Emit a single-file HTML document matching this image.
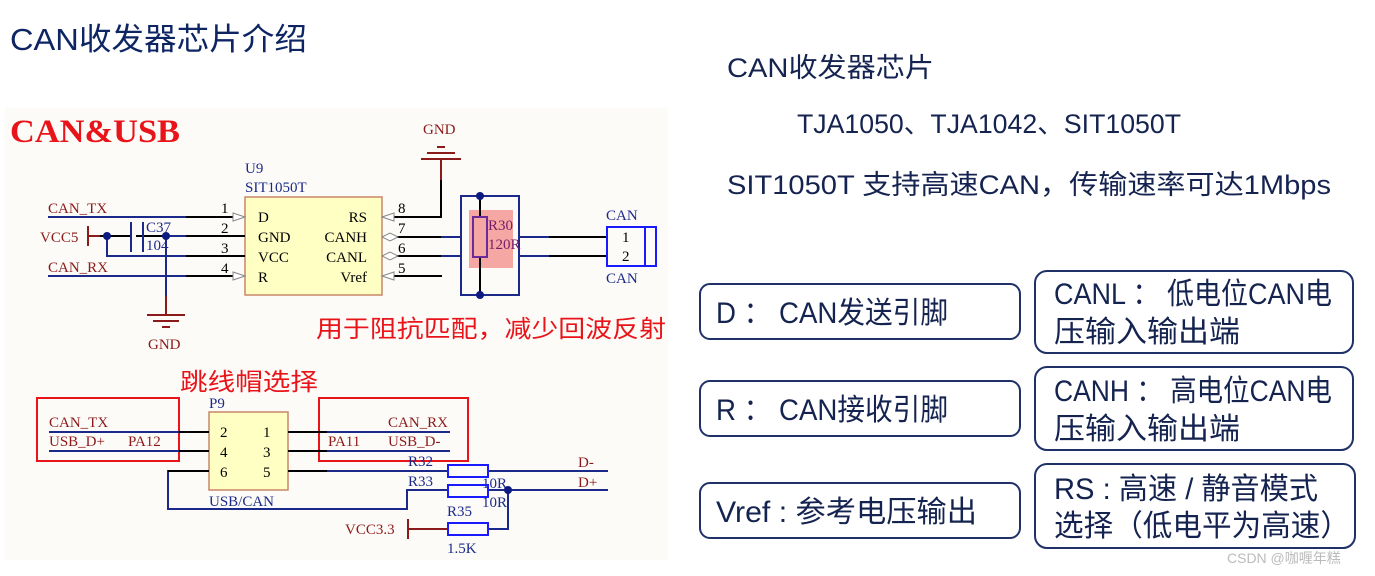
<!DOCTYPE html>
<html><head><meta charset="utf-8"><style>
html,body{margin:0;padding:0;background:#fff;}
svg{display:block;}
.s{font-family:"Liberation Serif","Noto Serif CJK SC",serif;}
.a{font-family:"Liberation Sans","Noto Sans CJK SC",sans-serif;}
</style></head><body>
<svg width="1375" height="576" viewBox="0 0 1375 576" xmlns="http://www.w3.org/2000/svg">
<rect width="1375" height="576" fill="#fff"/>
<text class="a" x="10" y="50" font-size="31" fill="#0d2563" textLength="297" lengthAdjust="spacingAndGlyphs">CAN收发器芯片介绍</text>
<rect x="5" y="108" width="663" height="452" fill="#fdfbf7"/>
<text class="s" x="10" y="142" font-size="33" font-weight="bold" fill="#e8141a" textLength="170" lengthAdjust="spacingAndGlyphs">CAN&amp;USB</text>

<!-- pink highlight behind -->
<rect x="469" y="210" width="44" height="58" fill="#f4a7a3"/>

<g class="s" font-size="15">
<text x="245" y="173" fill="#1b2a8a">U9</text>
<text x="245" y="192" fill="#1b2a8a">SIT1050T</text>
<rect x="245" y="197" width="137" height="98" fill="#ffffc4" stroke="#c9876a" stroke-width="1.5"/>
<text x="258" y="222" fill="#000">D</text>
<text x="258" y="242" fill="#000">GND</text>
<text x="258" y="262" fill="#000">VCC</text>
<text x="258" y="282" fill="#000">R</text>
<text x="367" y="222" fill="#000" text-anchor="end">RS</text>
<text x="367" y="242" fill="#000" text-anchor="end">CANH</text>
<text x="367" y="262" fill="#000" text-anchor="end">CANL</text>
<text x="367" y="282" fill="#000" text-anchor="end">Vref</text>
<text x="221" y="213">1</text><text x="221" y="233">2</text><text x="221" y="253">3</text><text x="221" y="273">4</text>
<text x="398" y="213">8</text><text x="398" y="233">7</text><text x="398" y="253">6</text><text x="398" y="273">5</text>
<text x="48" y="213" fill="#8b1a1a">CAN_TX</text>
<text x="48" y="272" fill="#8b1a1a">CAN_RX</text>
<text x="40" y="242" fill="#8b1a1a">VCC5</text>
<text x="146" y="232" fill="#1b2a8a">C37</text>
<text x="146" y="250" fill="#1b2a8a">104</text>
<text x="148" y="349" fill="#8b1a1a">GND</text>
<text x="423" y="134" fill="#8b1a1a">GND</text>
<text x="606" y="220" fill="#1b2a8a">CAN</text>
<text x="606" y="283" fill="#1b2a8a">CAN</text>
<text x="622" y="242" fill="#000">1</text>
<text x="622" y="261" fill="#000">2</text>
</g>
<g stroke-width="2" fill="none">
<line x1="48" y1="217" x2="186" y2="217" stroke="#1b2a8a"/><line x1="186" y1="217" x2="235" y2="217" stroke="#000"/>
<line x1="48" y1="276" x2="186" y2="276" stroke="#1b2a8a"/><line x1="186" y1="276" x2="235" y2="276" stroke="#000"/>
<line x1="88" y1="236" x2="130" y2="236" stroke="#000"/>
<line x1="136" y1="236" x2="245" y2="236" stroke="#000"/>
<line x1="166" y1="236" x2="186" y2="236" stroke="#1b2a8a"/>
<polyline points="107,236 107,256 245,256" stroke="#1b2a8a"/>
<line x1="186" y1="256" x2="245" y2="256" stroke="#000"/>
<line x1="166" y1="236" x2="166" y2="296" stroke="#1b2a8a"/>
<line x1="166" y1="296" x2="166" y2="315" stroke="#8b1a1a"/>
<line x1="88" y1="226" x2="88" y2="246" stroke="#8b1a1a"/>
<line x1="89" y1="236" x2="100" y2="236" stroke="#8b1a1a"/>
<line x1="131" y1="222" x2="131" y2="252" stroke="#1b2a8a"/>
<line x1="143" y1="222" x2="143" y2="252" stroke="#1b2a8a"/>
<line x1="147" y1="315" x2="185" y2="315" stroke="#8b1a1a"/>
<line x1="153" y1="321" x2="179" y2="321" stroke="#8b1a1a"/>
<line x1="162" y1="327" x2="170" y2="327" stroke="#8b1a1a"/>
<polyline points="390,217 441,217 441,180" stroke="#000"/>
<line x1="441" y1="180" x2="441" y2="160" stroke="#8b1a1a"/>
<line x1="421" y1="159" x2="461" y2="159" stroke="#8b1a1a"/>
<line x1="427" y1="153" x2="455" y2="153" stroke="#8b1a1a"/>
<line x1="437" y1="147" x2="445" y2="147" stroke="#8b1a1a"/>
<line x1="390" y1="237" x2="441" y2="237" stroke="#000"/><line x1="441" y1="237" x2="461" y2="237" stroke="#1b2a8a"/>
<line x1="390" y1="256" x2="441" y2="256" stroke="#000"/><line x1="441" y1="256" x2="461" y2="256" stroke="#1b2a8a"/>
<line x1="390" y1="276" x2="442" y2="276" stroke="#000"/>
<rect x="461" y="196" width="58" height="99" stroke="#1b2a8a"/>
<line x1="519" y1="237" x2="549" y2="237" stroke="#1b2a8a"/><line x1="549" y1="237" x2="607" y2="237" stroke="#000"/>
<line x1="519" y1="256" x2="549" y2="256" stroke="#1b2a8a"/><line x1="549" y1="256" x2="607" y2="256" stroke="#000"/>
</g>
<line x1="480" y1="196" x2="480" y2="295" stroke="#000" stroke-width="2"/>
<rect x="473" y="217" width="14" height="40" fill="#f4a7a3" stroke="#6b2a9a" stroke-width="2"/>
<g class="s" font-size="15" fill="#7a1a6a">
<text x="488" y="230">R30</text>
<text x="488" y="249">120R</text>
</g>
<circle cx="480" cy="196" r="4" fill="#0d1a80"/><circle cx="480" cy="295" r="4" fill="#0d1a80"/>
<circle cx="107" cy="236" r="4" fill="#0d1a80"/><circle cx="166" cy="236" r="4" fill="#0d1a80"/>
<rect x="607" y="227" width="49" height="39" fill="none" stroke="#1a1aff" stroke-width="2"/>
<line x1="645" y1="227" x2="645" y2="266" stroke="#1a1aff" stroke-width="2"/>
<g fill="#fff" stroke="#888" stroke-width="1">
<polygon points="233,213 245,217 233,221"/>
<polygon points="245,276 233,272 233,280"/>
<polygon points="394,213 382,217 394,221"/>
<polygon points="382,237 390,233 398,237 390,241"/>
<polygon points="382,256 390,252 398,256 390,260"/>
<polygon points="382,276 394,272 394,280"/>
</g>
<text class="a" x="316" y="337" font-size="24" fill="#e8141a" textLength="350" lengthAdjust="spacingAndGlyphs">用于阻抗匹配，减少回波反射</text>

<text class="a" x="180" y="390" font-size="24" fill="#e8141a" textLength="138" lengthAdjust="spacingAndGlyphs">跳线帽选择</text>
<rect x="37" y="398" width="142" height="63" fill="none" stroke="#e8141a" stroke-width="2"/>
<rect x="319" y="398" width="149" height="63" fill="none" stroke="#e8141a" stroke-width="2"/>
<g class="s" font-size="15">
<text x="209" y="408" fill="#1b2a8a">P9</text>
<rect x="209" y="412" width="79" height="78" fill="#ffffc4" stroke="#c9876a" stroke-width="1.5"/>
<text x="220" y="437">2</text><text x="263" y="437">1</text>
<text x="220" y="457">4</text><text x="263" y="457">3</text>
<text x="220" y="477">6</text><text x="263" y="477">5</text>
<text x="209" y="506" fill="#1b2a8a">USB/CAN</text>
<text x="49" y="427" fill="#8b1a1a">CAN_TX</text>
<text x="49" y="446" fill="#8b1a1a">USB_D+</text>
<text x="128" y="446" fill="#8b1a1a">PA12</text>
<text x="388" y="427" fill="#8b1a1a">CAN_RX</text>
<text x="328" y="446" fill="#8b1a1a">PA11</text>
<text x="388" y="446" fill="#8b1a1a">USB_D-</text>
<text x="408" y="466" fill="#1b2a8a">R32</text>
<text x="408" y="486" fill="#1b2a8a">R33</text>
<text x="482" y="488" fill="#1b2a8a">10R</text>
<text x="482" y="507" fill="#1b2a8a">10R</text>
<text x="447" y="516" fill="#1b2a8a">R35</text>
<text x="447" y="553" fill="#1b2a8a">1.5K</text>
<text x="578" y="467" fill="#8b1a1a">D-</text>
<text x="578" y="487" fill="#8b1a1a">D+</text>
<text x="345" y="534" fill="#8b1a1a">VCC3.3</text>
</g>
<g stroke-width="2" fill="none">
<line x1="49" y1="432" x2="209" y2="432" stroke="#1b2a8a"/><line x1="179" y1="432" x2="209" y2="432" stroke="#000"/>
<line x1="49" y1="451" x2="209" y2="451" stroke="#1b2a8a"/><line x1="179" y1="451" x2="209" y2="451" stroke="#000"/>
<line x1="288" y1="432" x2="450" y2="432" stroke="#1b2a8a"/><line x1="288" y1="432" x2="327" y2="432" stroke="#000"/>
<line x1="288" y1="451" x2="450" y2="451" stroke="#1b2a8a"/><line x1="288" y1="451" x2="327" y2="451" stroke="#000"/>
<line x1="288" y1="471" x2="448" y2="471" stroke="#1b2a8a"/><line x1="288" y1="471" x2="327" y2="471" stroke="#000"/>
<polyline points="209,471 168,471 168,509 407,509 407,490 448,490" stroke="#1b2a8a"/>
<line x1="168" y1="471" x2="209" y2="471" stroke="#000"/>
<line x1="488" y1="471" x2="608" y2="471" stroke="#1b2a8a"/>
<line x1="488" y1="490" x2="608" y2="490" stroke="#1b2a8a"/>
<polyline points="488,529 508,529 508,490" stroke="#1b2a8a"/>
<line x1="408" y1="529" x2="448" y2="529" stroke="#8b1a1a"/>
<line x1="408" y1="519" x2="408" y2="539" stroke="#8b1a1a"/>
<rect x="448" y="465" width="40" height="12" stroke="#1a1aff"/>
<rect x="448" y="485" width="40" height="12" stroke="#1a1aff"/>
<rect x="448" y="523" width="40" height="12" stroke="#1a1aff"/>
</g>
<circle cx="508" cy="490" r="4" fill="#0d1a80"/>

<g class="a" fill="#14234f" lengthAdjust="spacingAndGlyphs">
<text x="727" y="77" font-size="27" textLength="207" lengthAdjust="spacingAndGlyphs">CAN收发器芯片</text>
<text x="797" y="133" font-size="27" textLength="384" lengthAdjust="spacingAndGlyphs">TJA1050、TJA1042、SIT1050T</text>
<text x="727" y="194" font-size="27" textLength="604" lengthAdjust="spacingAndGlyphs">SIT1050T 支持高速CAN，传输速率可达1Mbps</text>
</g>
<g fill="#fff" stroke="#1f3167" stroke-width="2">
<rect x="700" y="284" width="320" height="55" rx="10"/>
<rect x="700" y="381" width="320" height="55" rx="10"/>
<rect x="700" y="483" width="320" height="55" rx="10"/>
<rect x="1035" y="271" width="318" height="82" rx="12"/>
<rect x="1035" y="367" width="318" height="83" rx="12"/>
<rect x="1035" y="464" width="320" height="84" rx="12"/>
</g>
<g class="a" fill="#14234f" font-size="30">
<text x="716" y="323" textLength="232" lengthAdjust="spacingAndGlyphs">D ： CAN发送引脚</text>
<text x="716" y="420" textLength="232" lengthAdjust="spacingAndGlyphs">R ： CAN接收引脚</text>
<text x="716" y="522" textLength="261" lengthAdjust="spacingAndGlyphs">Vref : 参考电压输出</text>
<text x="1054" y="304" textLength="278" lengthAdjust="spacingAndGlyphs">CANL ： 低电位CAN电</text>
<text x="1054" y="342" textLength="186" lengthAdjust="spacingAndGlyphs">压输入输出端</text>
<text x="1054" y="401" textLength="278" lengthAdjust="spacingAndGlyphs">CANH ： 高电位CAN电</text>
<text x="1054" y="439" textLength="186" lengthAdjust="spacingAndGlyphs">压输入输出端</text>
<text x="1054" y="499" textLength="264" lengthAdjust="spacingAndGlyphs">RS : 高速 / 静音模式</text>
<text x="1054" y="536" textLength="296" lengthAdjust="spacingAndGlyphs">选择（低电平为高速）</text>
</g>
<text class="a" x="1227" y="563" font-size="14" fill="#bbb">CSDN @咖喱年糕</text>
</svg>
</body></html>
